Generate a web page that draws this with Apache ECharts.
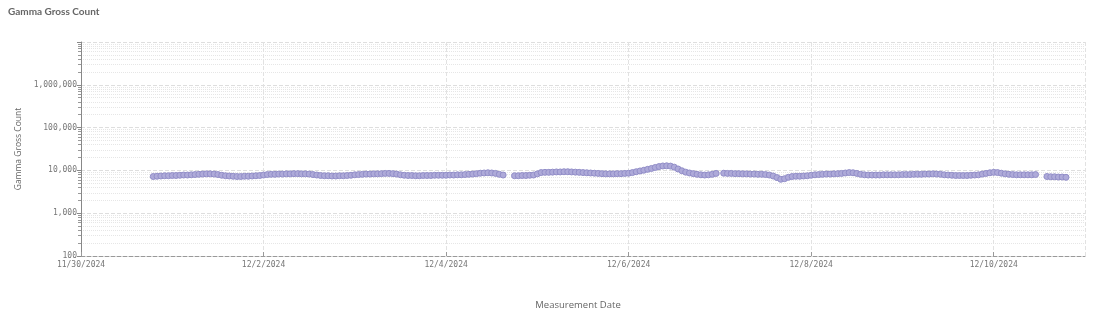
<!DOCTYPE html>
<html>
<head>
<meta charset="utf-8">
<script src="https://cdn.jsdelivr.net/npm/echarts@6/dist/echarts.min.js"></script>
<style>
html,body{margin:0;padding:0;background:#fff;}
#chart{width:1100px;height:316px;}
</style>
</head>
<body>
<div id="chart"></div>
<script>
// Hourly Gamma Gross Count readings, starting 11/30/2024 19:00 (null = no reading)
var startDate = [2024, 11, 30];     // Y, M, D of axis origin
var startHour = 19;                 // first reading hour on 11/30
var counts = [
  // 11/30 19-23
  7200, 7300, 7400, 7500, 7500,
  // 12/1
  7600, 7600, 7700, 7800, 7800, 7900, 8000, 8100, 8200, 8300, 8300, 8200,
  8000, 7700, 7500, 7400, 7300, 7200, 7200, 7300, 7300, 7400, 7500, 7600,
  // 12/2
  7800, 8000, 8100, 8100, 8200, 8200, 8300, 8300, 8400, 8400, 8300, 8300,
  8200, 8000, 7800, 7600, 7500, 7500, 7400, 7400, 7500, 7500, 7600, 7700,
  // 12/3
  7900, 8000, 8100, 8200, 8200, 8300, 8300, 8400, 8500, 8500, 8400, 8200,
  7900, 7700, 7600, 7600, 7500, 7500, 7600, 7600, 7600, 7700, 7700, 7700,
  // 12/4
  7700, 7800, 7800, 7900, 7900, 8000, 8100, 8200, 8400, 8600, 8700, 8800,
  8700, 8500, 8100, 7800, null, null, 7500, 7500, 7600, 7600, 7700, 7800,
  // 12/5
  8300, 8900, 9000, 9000, 9100, 9200, 9200, 9300, 9300, 9200, 9100, 9000,
  8900, 8800, 8700, 8600, 8500, 8400, 8300, 8300, 8300, 8400, 8400, 8500,
  // 12/6
  8600, 8900, 9300, 9700, 10100, 10600, 11100, 11700, 12300, 12700, 12800, 12600,
  11900, 10800, 9800, 9100, 8700, 8400, 8100, 7900, 7800, 7900, 8100, 8500,
  // 12/7
  null, 8600, 8500, 8500, 8400, 8400, 8300, 8300, 8200, 8200, 8100, 8100,
  8000, 7800, 7400, 6800, 6200, 6400, 6900, 7200, 7300, 7300, 7400, 7500,
  // 12/8
  7700, 7900, 8000, 8100, 8200, 8200, 8300, 8400, 8500, 8700, 8900, 8800,
  8500, 8100, 7900, 7800, 7800, 7800, 7800, 7900, 7900, 7900, 7900, 7900,
  // 12/9
  8000, 8000, 8000, 8100, 8100, 8100, 8200, 8200, 8300, 8200, 8100, 7900,
  7800, 7700, 7600, 7600, 7600, 7600, 7700, 7800, 7900, 8200, 8500, 8800,
  // 12/10
  9000, 8900, 8600, 8300, 8100, 8000, 7900, 7900, 7900, 7900, 7900, 8000,
  null, null, 7200, 7100, 7100, 7000, 7000, 6900
];
var yTickValues = [100, 1000, 10000, 100000, 1000000, 10000000];
var xDayMin = 0, xDayMax = 11, xDayStep = 2;  // days since 11/30/2024

var seriesData = counts.map(function (v, i) {
  return [(startHour + i) / 24, v];
});

function dayLabel(d) {
  var dt = new Date(startDate[0], startDate[1] - 1, startDate[2] + Math.round(d));
  return (dt.getMonth() + 1) + '/' + dt.getDate() + '/' + dt.getFullYear();
}

var chart = echarts.init(document.getElementById('chart'), null, {renderer: 'canvas'});
chart.setOption({
  animation: false,
  backgroundColor: '#fff',
  title: {
    text: 'Gamma Gross Count',
    left: 3, top: 2,
    textStyle: {fontFamily: 'Lato', fontWeight: 'bold', fontSize: 10, color: '#666'}
  },
  grid: {left: 81, right: 15, top: 42, bottom: 60, containLabel: false},
  xAxis: {
    type: 'value',
    min: xDayMin, max: xDayMax, interval: xDayStep,
    name: 'Measurement Date',
    nameLocation: 'middle', nameGap: 44,
    nameTextStyle: {fontFamily: 'Open Sans', fontSize: 9.5, color: '#666', padding: [0, 10, 0, 0]},
    axisLine: {show: true, lineStyle: {color: '#999', type: 'dashed', width: 1}},
    axisTick: {show: true, inside: true, length: 4, lineStyle: {color: '#999'}},
    axisLabel: {
      fontFamily: 'DejaVu Sans Mono', fontSize: 8, color: '#777', margin: 5,
      showMaxLabel: false,
      formatter: function (v) { return dayLabel(v); }
    },
    splitLine: {show: true, lineStyle: {color: '#e2e2e2', type: 'dashed', width: 1}}
  },
  yAxis: {
    type: 'log', logBase: 10,
    min: yTickValues[0], max: yTickValues[yTickValues.length - 1],
    name: 'Gamma Gross Count',
    nameLocation: 'middle', nameGap: 58,
    nameTextStyle: {fontFamily: 'Open Sans', fontSize: 8.5, color: '#666'},
    axisLine: {show: true, lineStyle: {color: '#888', width: 1}},
    axisTick: {show: true, length: 4, lineStyle: {color: '#888'}},
    minorTick: {show: true, splitNumber: 9, length: 3, lineStyle: {color: '#999'}},
    axisLabel: {
      fontFamily: 'DejaVu Sans Mono', fontSize: 8, color: '#777', margin: 4,
      showMaxLabel: false,
      formatter: function (v) { return Number(v).toLocaleString('en-US'); }
    },
    splitLine: {show: true, lineStyle: {color: '#dedede', type: 'dashed', width: 1}},
    minorSplitLine: {show: true, lineStyle: {color: '#e6e6e6', type: 'dotted', width: 1}}
  },
  series: [{
    type: 'line',
    data: seriesData,
    connectNulls: false,
    showSymbol: true,
    symbol: 'circle',
    symbolSize: 6,
    lineStyle: {width: 2, color: '#aba7d6'},
    itemStyle: {color: '#aeaad9', borderColor: '#928ec8', borderWidth: 1},
    z: 3
  }]
});
</script>
</body>
</html>
